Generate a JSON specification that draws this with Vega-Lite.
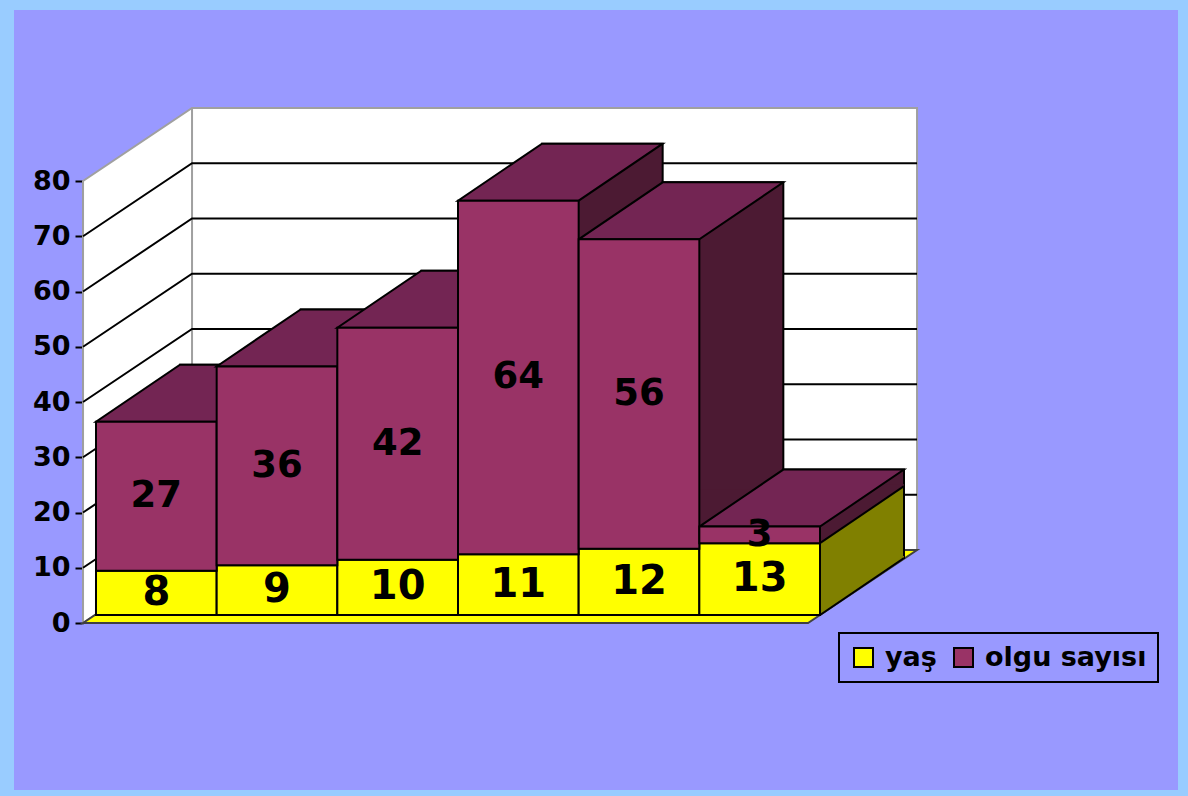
{
  "$schema": "https://vega.github.io/schema/vega-lite/v6.json",
  "width": 1164,
  "height": 780,
  "autosize": {"type": "none"},
  "padding": {"left": 14, "top": 10, "right": 10, "bottom": 6},
  "background": "#99CCFF",
  "config": {
    "view": {"fill": "#9999FF", "stroke": null},
    "legend": {"strokeWidth": 2}
  },
  "data": {
    "values": [
      {"kategori": "1", "seri": "yaş", "sira": 1, "deger": 8},
      {"kategori": "2", "seri": "yaş", "sira": 1, "deger": 9},
      {"kategori": "3", "seri": "yaş", "sira": 1, "deger": 10},
      {"kategori": "4", "seri": "yaş", "sira": 1, "deger": 11},
      {"kategori": "5", "seri": "yaş", "sira": 1, "deger": 12},
      {"kategori": "6", "seri": "yaş", "sira": 1, "deger": 13},
      {"kategori": "1", "seri": "olgu sayısı", "sira": 2, "deger": 27},
      {"kategori": "2", "seri": "olgu sayısı", "sira": 2, "deger": 36},
      {"kategori": "3", "seri": "olgu sayısı", "sira": 2, "deger": 42},
      {"kategori": "4", "seri": "olgu sayısı", "sira": 2, "deger": 64},
      {"kategori": "5", "seri": "olgu sayısı", "sira": 2, "deger": 56},
      {"kategori": "6", "seri": "olgu sayısı", "sira": 2, "deger": 3}
    ]
  },
  "layer": [
    {
      "data": {"values": [{"parca": "duvar"}]},
      "mark": {"type": "point", "shape": "M-73.3,0L-73.3,-442L35.7,-515L760.7,-515L760.7,-73L35.7,-73ZM35.7,-73L35.7,-515", "size": 4, "filled": true, "fill": "#FFFFFF", "stroke": "#A0A0A0", "strokeWidth": 2, "opacity": 1},
      "encoding": {
        "x": {"datum": "1", "type": "nominal", "scale": {"type": "band", "domain": ["1","2","3","4","5","6"], "range": [82, 806], "paddingInner": 0, "paddingOuter": 0}, "axis": null, "title": null},
        "y": {"datum": 0, "type": "quantitative", "scale": {"type": "linear", "domain": [0, 80], "range": [613, 171], "nice": false, "zero": false}, "title": null}
      }
    },
    {
      "data": {"values": [{"seviye": 10}, {"seviye": 20}, {"seviye": 30}, {"seviye": 40}, {"seviye": 50}, {"seviye": 60}, {"seviye": 70}]},
      "mark": {"type": "point", "shape": "M-73.3,0L35.7,-73L760.7,-73", "size": 4, "filled": false, "stroke": "#000000", "strokeWidth": 2, "opacity": 1},
      "encoding": {
        "x": {"datum": "1", "type": "nominal", "scale": {"type": "band", "domain": ["1","2","3","4","5","6"], "range": [82, 806], "paddingInner": 0, "paddingOuter": 0}, "axis": null, "title": null},
        "y": {"field": "seviye", "type": "quantitative", "scale": {"type": "linear", "domain": [0, 80], "range": [613, 171], "nice": false, "zero": false}, "title": null}
      }
    },
    {
      "data": {"values": [{"parca": "zemin"}]},
      "mark": {"type": "point", "shape": "M-73.3,0L651.7,0L760.7,-73L35.7,-73Z", "size": 4, "filled": true, "fill": "#FFFF00", "stroke": "#404040", "strokeWidth": 2, "opacity": 1},
      "encoding": {
        "x": {"datum": "1", "type": "nominal", "scale": {"type": "band", "domain": ["1","2","3","4","5","6"], "range": [82, 806], "paddingInner": 0, "paddingOuter": 0}, "axis": null, "title": null},
        "y": {"datum": 0, "type": "quantitative", "scale": {"type": "linear", "domain": [0, 80], "range": [613, 171], "nice": false, "zero": false}, "title": null}
      }
    },
    {
      "mark": {"type": "bar", "xOffset": 84, "x2Offset": 84, "yOffset": -65, "y2Offset": -65, "stroke": "#000000", "strokeWidth": 2, "opacity": 1},
      "encoding": {
        "x": {"field": "kategori", "type": "nominal", "scale": {"type": "band", "domain": ["1","2","3","4","5","6"], "range": [82, 806], "paddingInner": 0, "paddingOuter": 0}, "axis": null, "title": null},
        "y": {"field": "deger", "type": "quantitative", "stack": "zero", "scale": {"type": "linear", "domain": [0, 80], "range": [613, 171], "nice": false, "zero": false}, "title": null},
        "order": {"field": "sira", "type": "quantitative"},
        "fill": {"condition": {"test": "datum.seri === 'yaş'", "value": "#808000"}, "value": "#4C1A33"}
      }
    },
    {
      "transform": [{"filter": "datum.seri === 'yaş'"}],
      "mark": {"type": "point", "shape": "M60.33,-8L144.33,-65L144.33,-67L60.33,-67Z", "size": 4, "filled": true, "fill": "#808000", "strokeWidth": 0, "opacity": 1},
      "encoding": {
        "x": {"field": "kategori", "type": "nominal", "scale": {"type": "band", "domain": ["1","2","3","4","5","6"], "range": [82, 806], "paddingInner": 0, "paddingOuter": 0}, "axis": null, "title": null},
        "y": {"datum": 0, "type": "quantitative", "scale": {"type": "linear", "domain": [0, 80], "range": [613, 171], "nice": false, "zero": false}, "title": null}
      }
    },
    {
      "transform": [{"filter": "datum.seri === 'yaş'"}],
      "mark": {"type": "point", "shape": "M60.33,-8L144.33,-65L144.33,-67L60.33,-67Z", "size": 4, "filled": true, "fill": "#4C1A33", "strokeWidth": 0, "opacity": 1},
      "encoding": {
        "x": {"field": "kategori", "type": "nominal", "scale": {"type": "band", "domain": ["1","2","3","4","5","6"], "range": [82, 806], "paddingInner": 0, "paddingOuter": 0}, "axis": null, "title": null},
        "y": {"field": "deger", "type": "quantitative", "scale": {"type": "linear", "domain": [0, 80], "range": [613, 171], "nice": false, "zero": false}, "title": null}
      }
    },
    {
      "transform": [{"filter": "datum.seri === 'yaş'"}],
      "mark": {"type": "point", "shape": "M60.33,-8L144.33,-65", "size": 4, "filled": false, "stroke": "#000000", "strokeWidth": 2, "opacity": 1},
      "encoding": {
        "x": {"field": "kategori", "type": "nominal", "scale": {"type": "band", "domain": ["1","2","3","4","5","6"], "range": [82, 806], "paddingInner": 0, "paddingOuter": 0}, "axis": null, "title": null},
        "y": {"datum": 0, "type": "quantitative", "scale": {"type": "linear", "domain": [0, 80], "range": [613, 171], "nice": false, "zero": false}, "title": null}
      }
    },
    {
      "transform": [{"filter": "datum.seri === 'yaş'"}],
      "mark": {"type": "point", "shape": "M60.33,-8L144.33,-65", "size": 4, "filled": false, "stroke": "#000000", "strokeWidth": 2, "opacity": 1},
      "encoding": {
        "x": {"field": "kategori", "type": "nominal", "scale": {"type": "band", "domain": ["1","2","3","4","5","6"], "range": [82, 806], "paddingInner": 0, "paddingOuter": 0}, "axis": null, "title": null},
        "y": {"field": "deger", "type": "quantitative", "scale": {"type": "linear", "domain": [0, 80], "range": [613, 171], "nice": false, "zero": false}, "title": null}
      }
    },
    {
      "mark": {"type": "point", "shape": "M-60.33,-8L60.33,-8L144.33,-65L23.67,-65Z", "size": 4, "filled": true, "fill": "#732553", "stroke": "#000000", "strokeWidth": 2, "opacity": 1},
      "encoding": {
        "x": {"field": "kategori", "type": "nominal", "scale": {"type": "band", "domain": ["1","2","3","4","5","6"], "range": [82, 806], "paddingInner": 0, "paddingOuter": 0}, "axis": null, "title": null},
        "y": {"aggregate": "sum", "field": "deger", "type": "quantitative", "scale": {"type": "linear", "domain": [0, 80], "range": [613, 171], "nice": false, "zero": false}, "title": null}
      }
    },
    {
      "mark": {"type": "bar", "yOffset": -8, "y2Offset": -8, "stroke": "#000000", "strokeWidth": 2, "opacity": 1},
      "encoding": {
        "x": {"field": "kategori", "type": "nominal", "scale": {"type": "band", "domain": ["1","2","3","4","5","6"], "range": [82, 806], "paddingInner": 0, "paddingOuter": 0}, "axis": null, "title": null},
        "y": {"field": "deger", "type": "quantitative", "stack": "zero", "scale": {"type": "linear", "domain": [0, 80], "range": [613, 171], "nice": false, "zero": false}, "title": null,
          "axis": {"values": [0, 10, 20, 30, 40, 50, 60, 70, 80], "offset": -69, "domain": true, "domainColor": "#000000", "domainWidth": 2, "ticks": true, "tickColor": "#000000", "tickWidth": 2, "tickSize": 8, "labelFont": "DejaVu Sans", "labelFontWeight": "bold", "labelFontSize": 27, "labelColor": "#000000", "labelPadding": 5, "labelFlush": false, "labelOverlap": false, "grid": false, "title": null}},
        "order": {"field": "sira", "type": "quantitative"},
        "color": {"field": "seri", "type": "nominal", "scale": {"domain": ["yaş", "olgu sayısı"], "range": ["#FFFF00", "#993366"]},
          "legend": {"title": null, "orient": "none", "legendX": 825, "legendY": 623, "direction": "horizontal", "symbolType": "square", "symbolSize": 361, "symbolStrokeColor": "#000000", "symbolStrokeWidth": 2, "symbolOpacity": 1, "labelFont": "DejaVu Sans", "labelFontWeight": "bold", "labelFontSize": 27, "labelColor": "#000000", "labelOffset": 8, "labelLimit": 400, "columnPadding": 13, "padding": 11, "strokeColor": "#000000"}}
      }
    },
    {
      "mark": {"type": "text", "font": "DejaVu Sans", "fontWeight": "bold", "fill": "#000000", "baseline": "middle", "align": "center", "dy": -8},
      "encoding": {
        "x": {"field": "kategori", "type": "nominal", "scale": {"type": "band", "domain": ["1","2","3","4","5","6"], "range": [82, 806], "paddingInner": 0, "paddingOuter": 0}, "axis": null, "title": null},
        "y": {"field": "deger", "type": "quantitative", "stack": "zero", "bandPosition": 0.5, "scale": {"type": "linear", "domain": [0, 80], "range": [613, 171], "nice": false, "zero": false}, "title": null},
        "order": {"field": "sira", "type": "quantitative"},
        "text": {"field": "deger", "type": "quantitative"},
        "size": {"condition": {"test": "datum.seri === 'yaş'", "value": 40}, "value": 37}
      }
    }
  ]
}
